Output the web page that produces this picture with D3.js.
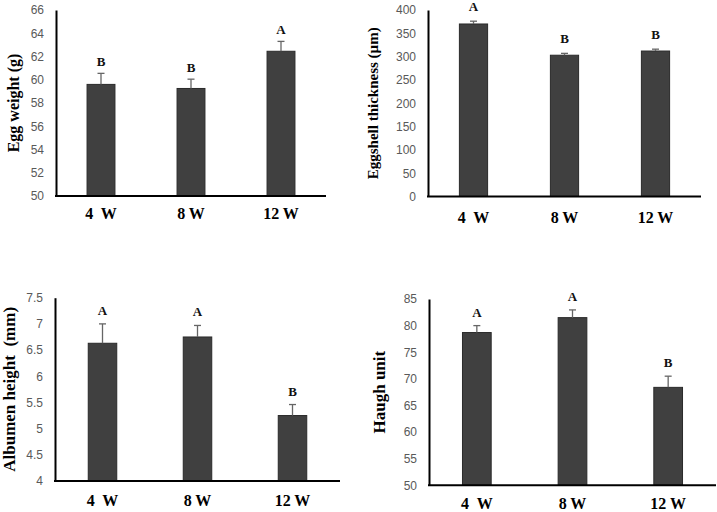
<!DOCTYPE html>
<html>
<head>
<meta charset="utf-8">
<script src="https://cdn.jsdelivr.net/npm/d3@7"></script>
<style>
  html, body { margin: 0; padding: 0; background: #fff; }
  svg { display: block; }
  text { white-space: pre; }
</style>
</head>
<body>
<svg id="chart" width="717" height="512"></svg>
<script>
// ---- Data ----
const categories = ["4  W", "8 W", "12 W"];

const eggWeightValues = [59.6, 59.25, 62.45];
const eggWeightErrors = [0.95, 0.8, 0.85];
const eggWeightLetters = ["B", "B", "A"];
const eggWeightTicks = [50, 52, 54, 56, 58, 60, 62, 64, 66];

const shellValues = [370, 303, 312];
const shellErrors = [6, 4, 4];
const shellLetters = ["A", "B", "B"];
const shellTicks = [0, 50, 100, 150, 200, 250, 300, 350, 400];

const albumenValues = [6.63, 6.75, 5.25];
const albumenErrors = [0.37, 0.22, 0.21];
const albumenLetters = ["A", "A", "B"];
const albumenTicks = [4, 4.5, 5, 5.5, 6, 6.5, 7, 7.5];

const haughValues = [78.7, 81.5, 68.4];
const haughErrors = [1.3, 1.45, 2.1];
const haughLetters = ["A", "A", "B"];
const haughTicks = [50, 55, 60, 65, 70, 75, 80, 85];

const panels = [
  { title: "Egg weight (g)", values: eggWeightValues, errors: eggWeightErrors, letters: eggWeightLetters, ticks: eggWeightTicks,
    x0: 56, x1: 326, yTop: 10, yBot: 196, titleX: 13, titleSize: 16, labelY: 213, gap: 7, pad: 0.69 },
  { title: "Eggshell thickness (\u00b5m)", values: shellValues, errors: shellErrors, letters: shellLetters, ticks: shellTicks,
    x0: 428, x1: 701, yTop: 10, yBot: 196.5, titleX: 373, titleSize: 15, labelY: 217, gap: 10, pad: 0.69 },
  { title: "Albumen height  (mm)", values: albumenValues, errors: albumenErrors, letters: albumenLetters, ticks: albumenTicks,
    x0: 55, x1: 340, yTop: 297.7, yBot: 481, titleX: 9, titleSize: 17, labelY: 500, gap: 9, pad: 0.7 },
  { title: "Haugh unit", values: haughValues, errors: haughErrors, letters: haughLetters, ticks: haughTicks,
    x0: 429, x1: 716, yTop: 299, yBot: 485.3, titleX: 379, titleSize: 17, labelY: 503, gap: 9, pad: 0.7 }
];

const svg = d3.select("#chart");

panels.forEach(p => {
  const g = svg.append("g");
  const x = d3.scaleBand().domain(categories).range([p.x0, p.x1])
    .paddingInner(p.pad).paddingOuter(p.pad / 2);
  const y = d3.scaleLinear().domain([p.ticks[0], p.ticks[p.ticks.length - 1]]).range([p.yBot, p.yTop]);

  // y axis
  const yAxis = g.append("g").attr("transform", `translate(${p.x0},0)`)
    .call(d3.axisLeft(y).tickValues(p.ticks).tickSize(0).tickPadding(12).tickFormat(d3.format("")));
  yAxis.select(".domain").attr("stroke", "#000").attr("stroke-width", 2);
  yAxis.selectAll("text").attr("fill", "#595959")
    .style("font-family", "'Liberation Sans Narrow', 'Liberation Sans', Arial, sans-serif")
    .style("font-size", "12px");

  // bars
  g.selectAll("rect.bar").data(p.values).join("rect")
    .attr("class", "bar")
    .attr("x", (d, i) => x(categories[i]))
    .attr("width", x.bandwidth())
    .attr("y", d => y(d))
    .attr("height", d => p.yBot - y(d))
    .attr("fill", "#404040")
    .attr("stroke", "#2a2a2a")
    .attr("stroke-width", 1);

  // error bars (upper only)
  p.values.forEach((v, i) => {
    const cx = x(categories[i]) + x.bandwidth() / 2;
    const top = y(v + p.errors[i]);
    g.append("line").attr("x1", cx).attr("x2", cx).attr("y1", y(v)).attr("y2", top)
      .attr("stroke", "#666").attr("stroke-width", 1.3);
    g.append("line").attr("x1", cx - 3.5).attr("x2", cx + 3.5).attr("y1", top).attr("y2", top)
      .attr("stroke", "#666").attr("stroke-width", 1.3);
    g.append("text").attr("x", cx).attr("y", top - p.gap)
      .attr("text-anchor", "middle")
      .style("font-family", "'Liberation Serif', 'Times New Roman', serif")
      .style("font-weight", "bold").style("font-size", "13px")
      .attr("fill", "#111")
      .text(p.letters[i]);
  });

  // x axis line
  g.append("line").attr("x1", p.x0 - 1).attr("x2", p.x1).attr("y1", p.yBot).attr("y2", p.yBot)
    .attr("stroke", "#000").attr("stroke-width", 2);

  // x labels
  g.selectAll("text.xl").data(categories).join("text")
    .attr("class", "xl")
    .attr("x", d => x(d) + x.bandwidth() / 2)
    .attr("y", p.labelY)
    .attr("dy", "0.35em")
    .attr("text-anchor", "middle")
    .style("font-family", "'Liberation Serif', 'Times New Roman', serif")
    .style("font-weight", "bold").style("font-size", "16px")
    .attr("fill", "#000")
    .text(d => d);

  // y title
  g.append("text")
    .attr("transform", `translate(${p.titleX},${(p.yTop + p.yBot) / 2}) rotate(-90)`)
    .attr("dy", "0.35em")
    .attr("text-anchor", "middle")
    .style("font-family", "'Liberation Serif', 'Times New Roman', serif")
    .style("font-weight", "bold").style("font-size", p.titleSize + "px")
    .attr("fill", "#000")
    .text(p.title);
});
</script>
</body>
</html>
